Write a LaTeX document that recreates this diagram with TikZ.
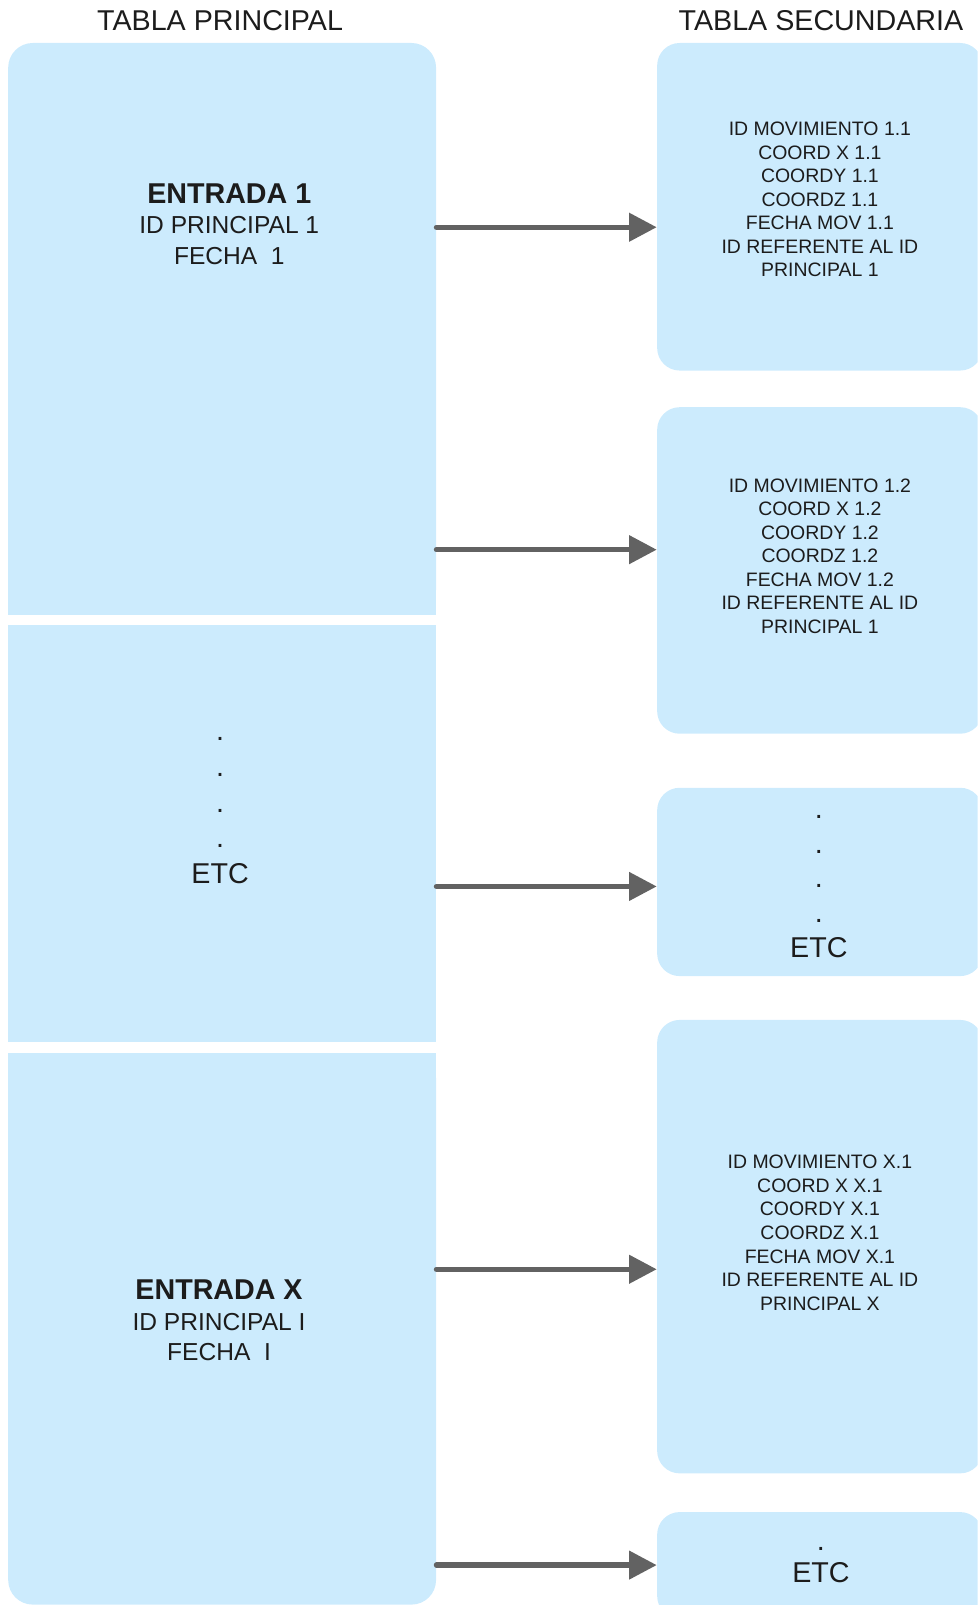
\documentclass[tikz,border=0pt]{standalone}
\usepackage{fontspec}
\setmainfont{Liberation Sans}
\usetikzlibrary{arrows.meta,positioning}
\definecolor{tablefill}{RGB}{204,235,253}
\definecolor{arrowgray}{RGB}{98,98,98}
\definecolor{inkgray}{RGB}{28,28,28}
\tikzset{
  title/.style={font=\fontsize{14}{16}\selectfont, text=inkgray},
  mainbox/.style={fill=tablefill, inner sep=0pt, minimum width=209pt},
  secbox/.style={fill=tablefill, inner sep=0pt, rounded corners=11pt, minimum width=159pt},
  maintext/.style={align=center, text=inkgray, font=\fontsize{12}{14.8}\selectfont},
  sectext/.style={align=center, text=inkgray, font=\fontsize{9.5}{11.5}\selectfont},
  etctext/.style={align=center, text=inkgray, font=\fontsize{14}{17.5}\selectfont},
  arrow/.style={-{Triangle[length=13.5pt,width=13.5pt]}, line width=2.6pt, draw=arrowgray, line cap=round}
}

\begin{document}
\begin{tikzpicture}
  \useasboundingbox (0,0) rectangle (477.5pt,-784pt);
  \clip (0,0) rectangle (477.5pt,-784pt);

  % column titles
  \node[title] (ptitle) at (107.5pt,-10pt) {TABLA PRINCIPAL};
  \node[title] (stitle) at (401pt,-10pt) {TABLA SECUNDARIA};

  % main table
  \node[mainbox, rounded corners=12pt, minimum height=279pt] (prin1) at (108.5pt,-160.5pt) {};
  \fill[tablefill] (prin1.west) rectangle (prin1.south east);
  \node[mainbox, below=5pt of prin1, minimum height=203.5pt] (prin2) {};
  \node[mainbox, rounded corners=12pt, below=5.5pt of prin2, minimum height=269pt] (prin3) {};
  \fill[tablefill] (prin3.north west) rectangle (prin3.east);

  \node[maintext] (ent1) at (112pt,-109.5pt)
    {{\bfseries\fontsize{14}{16}\selectfont ENTRADA 1}\\ID PRINCIPAL 1\\FECHA\ \ 1};
  \node[etctext] (etcl) at (107.5pt,-396pt) {.\\.\\.\\.\\ETC};
  \node[maintext] (entx) at (107pt,-645pt)
    {{\bfseries\fontsize{14}{16}\selectfont ENTRADA X}\\ID PRINCIPAL I\\FECHA\ \ I};

  % secondary table
  \node[secbox, minimum height=160pt] (sec1) at (400.5pt,-101pt) {};
  \node[secbox, below=17.5pt of sec1, minimum height=159.5pt] (sec2) {};
  \node[secbox, below=26pt of sec2, minimum height=92pt] (sec3) {};
  \node[secbox, below=21pt of sec3, minimum height=221.5pt] (sec4) {};
  \node[secbox, below=18.5pt of sec4, minimum height=52pt] (sec5) {};

  \node[sectext] (txt1) at ([yshift=3.5pt]sec1.center)
    {ID MOVIMIENTO 1.1\\COORD X 1.1\\COORDY 1.1\\COORDZ 1.1\\FECHA MOV 1.1\\ID REFERENTE AL ID\\PRINCIPAL 1};
  \node[sectext] (txt2) at ([yshift=7pt]sec2.center)
    {ID MOVIMIENTO 1.2\\COORD X 1.2\\COORDY 1.2\\COORDZ 1.2\\FECHA MOV 1.2\\ID REFERENTE AL ID\\PRINCIPAL 1};
  \node[etctext, font=\fontsize{14}{17}\selectfont] (etc3) at (400pt,-433pt) {.\\.\\.\\.\\ETC};
  \node[sectext] (txt4) at ([yshift=6.75pt]sec4.center)
    {ID MOVIMIENTO X.1\\COORD X X.1\\COORDY X.1\\COORDZ X.1\\FECHA MOV X.1\\ID REFERENTE AL ID\\PRINCIPAL X};
  \node[etctext, font=\fontsize{14}{16}\selectfont] (etc5) at (401pt,-764.5pt) {.\\ETC};

  % links
  \coordinate (a1) at (0,-111pt);
  \coordinate (a2) at (0,-268.5pt);
  \coordinate (a4) at (0,-620pt);
  \draw[arrow] (prin1.east |- a1) -- (sec1.west |- a1);
  \draw[arrow] (prin1.east |- a2) -- (sec2.west |- a2);
  \draw[arrow] (prin2.east |- etc3) -- (sec3.west |- etc3);
  \draw[arrow] (prin3.east |- a4) -- (sec4.west |- a4);
  \draw[arrow] (prin3.east |- etc5) -- (sec5.west |- etc5);
\end{tikzpicture}
\end{document}
